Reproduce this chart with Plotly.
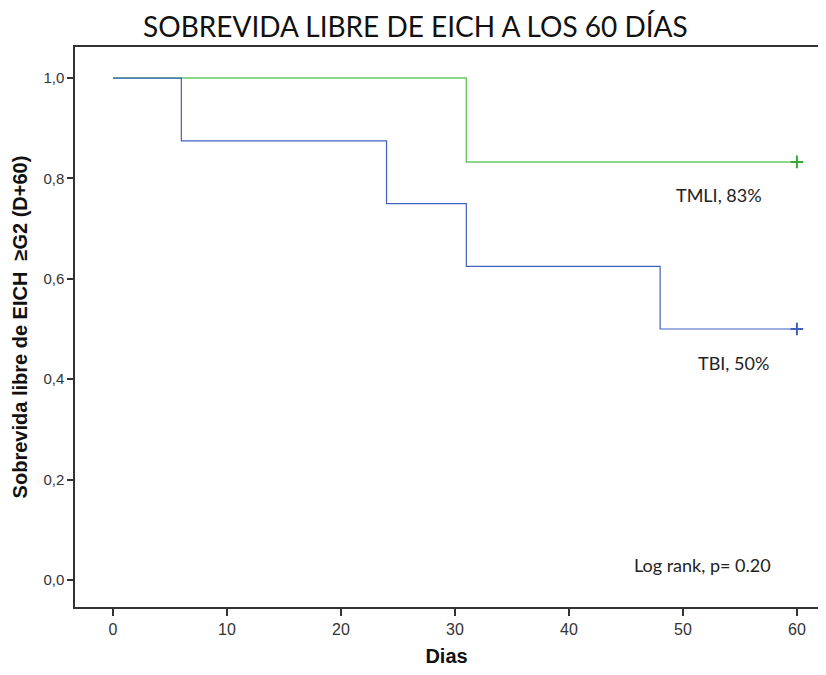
import plotly.graph_objects as go

# Data (Kaplan-Meier step curves)
tmli_days = [0, 31, 31, 60]
tmli_surv = [1.0, 1.0, 0.833, 0.833]
tbi_days = [0, 6, 6, 24, 24, 31, 31, 48, 48, 60]
tbi_surv = [1.0, 1.0, 0.875, 0.875, 0.75, 0.75, 0.625, 0.625, 0.5, 0.5]
censor_days = [60]
tmli_censor = [0.833]
tbi_censor = [0.5]

x_ticks = [0, 10, 20, 30, 40, 50, 60]
y_ticks = [0.0, 0.2, 0.4, 0.6, 0.8, 1.0]
y_ticklabels = ["0,0", "0,2", "0,4", "0,6", "0,8", "1,0"]

green = "#66cc66"
blue = "#4060c0"

fig = go.Figure()
fig.add_trace(go.Scatter(x=tmli_days, y=tmli_surv, mode="lines",
                         line=dict(color=green, width=1.5), showlegend=False, hoverinfo="skip"))
fig.add_trace(go.Scatter(x=tbi_days, y=tbi_surv, mode="lines",
                         line=dict(color=blue, width=1.2), showlegend=False, hoverinfo="skip"))
fig.add_trace(go.Scatter(x=censor_days, y=tmli_censor, mode="markers",
                         marker=dict(symbol="cross-thin", size=9, line=dict(color="#33aa33", width=2)),
                         showlegend=False))
fig.add_trace(go.Scatter(x=censor_days, y=tbi_censor, mode="markers",
                         marker=dict(symbol="cross-thin", size=9, line=dict(color=blue, width=2)),
                         showlegend=False))

ann_font = dict(family="Lato, Open Sans, sans-serif", size=18, color="#222")
fig.add_annotation(x=53.2, y=0.767, text="TMLI, 83%", showarrow=False, font=ann_font, xanchor="center")
fig.add_annotation(x=54.4, y=0.432, text="TBI, 50%", showarrow=False, font=ann_font, xanchor="center")
fig.add_annotation(x=51.7, y=0.03, text="Log rank, p= 0.20", showarrow=False, font=ann_font, xanchor="center")

# The page body adds an 8px margin; size the figure so the page does not scroll.
fig.update_layout(
    width=810, height=659,
    paper_bgcolor="white", plot_bgcolor="white",
    margin=dict(l=67, r=0, t=39, b=60),
    title=dict(text="SOBREVIDA LIBRE DE EICH A LOS 60 DÍAS", x=0.503, xanchor="center",
               y=0.971, yanchor="middle",
               font=dict(family="Lato, Open Sans, sans-serif", size=28, color="#111")),
    xaxis=dict(range=[-3.33, 61.85], tickvals=x_ticks, ticks="outside", ticklen=7, tickwidth=1.5,
               tickcolor="#333", showline=True, linecolor="#333", linewidth=1.5, mirror=True,
               showgrid=False, zeroline=False, automargin=False,
               tickfont=dict(family="Liberation Sans Narrow, Liberation Sans, sans-serif", size=16, color="#333"),
               title=dict(text="<b>Dias</b>", standoff=17,
                          font=dict(family="Liberation Sans, Arial, sans-serif", size=20, color="#111"))),
    yaxis=dict(range=[-0.054, 1.062], tickvals=y_ticks, ticktext=y_ticklabels, ticks="outside",
               ticklen=6, tickwidth=1.5, tickcolor="#333", showline=True, linecolor="#333", linewidth=1.5,
               mirror=False, showgrid=False, zeroline=False, automargin=False,
               tickfont=dict(family="Liberation Sans, Arial, sans-serif", size=15, color="#333"),
               title=dict(text="<b>Sobrevida libre de EICH&nbsp; ≥G2 (D+60)</b>", standoff=10,
                          font=dict(family="Liberation Sans, Arial, sans-serif", size=20, color="#111"))),
)

fig.write_html("out.html")
